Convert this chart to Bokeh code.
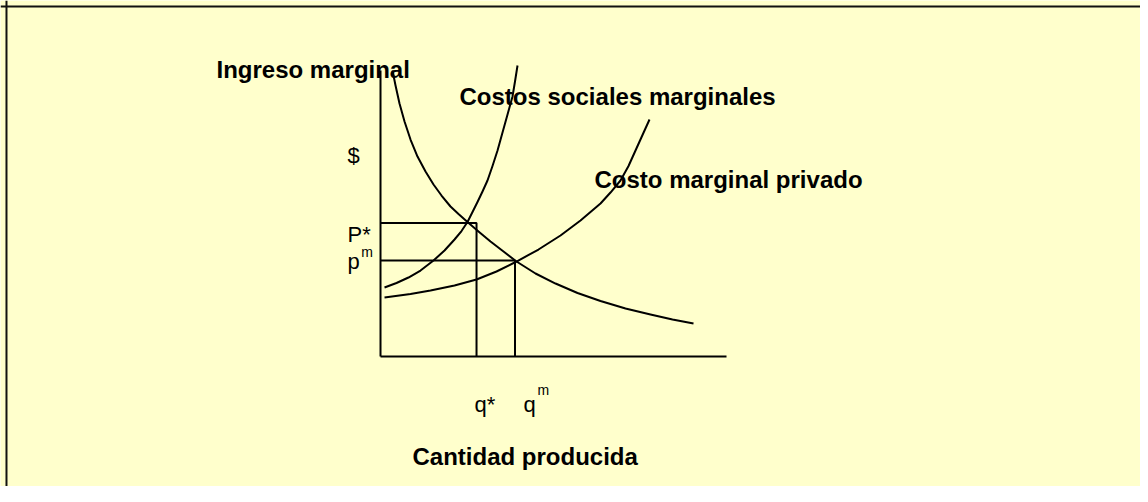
from bokeh.plotting import figure
from bokeh.models import Range1d, Span
from bokeh.core.properties import value
from bokeh.embed import file_html
from bokeh.resources import INLINE

# ---- data (quantity on x, $ on y; axes run 0..10) ----
axis_max_q = 10.0
axis_max_p = 10.0

q_star = 2.775
q_m = 3.887
p_star = 4.668
p_m = 3.357

# Ingreso marginal (marginal revenue)
mr_q = [0.347, 0.434, 0.549, 0.694, 0.867, 1.069, 1.301, 1.532, 1.763, 2.023, 2.254,
        2.514, 2.832, 3.179, 3.555, 3.931, 4.480, 5.058, 5.694, 6.358, 7.081, 7.803,
        8.439, 9.046]
mr_p = [10.000, 9.476, 8.846, 8.217, 7.587, 6.993, 6.469, 6.014, 5.629, 5.245, 4.983,
        4.703, 4.371, 4.021, 3.671, 3.322, 2.902, 2.552, 2.220, 1.941, 1.678, 1.469,
        1.294, 1.154]

# Costos sociales marginales
csm_q = [0.116, 0.462, 0.809, 1.156, 1.532, 1.850, 2.139, 2.341, 2.514, 2.659, 2.803,
         2.948, 3.092, 3.237, 3.382, 3.526, 3.671, 3.815, 3.887, 3.960]
csm_p = [2.413, 2.570, 2.762, 3.007, 3.357, 3.706, 4.091, 4.388, 4.703, 5.052, 5.402,
         5.769, 6.154, 6.661, 7.203, 7.832, 8.462, 9.091, 9.615, 10.175]

# Costo marginal privado
cmp_q = [0.116, 0.867, 1.445, 2.139, 2.775, 3.353, 3.931, 4.566, 5.202, 5.780, 6.358,
         6.647, 6.936, 7.168, 7.370, 7.572, 7.775]
cmp_p = [2.063, 2.185, 2.308, 2.483, 2.692, 2.972, 3.322, 3.741, 4.231, 4.755, 5.350,
         5.734, 6.154, 6.661, 7.203, 7.745, 8.287]

BG = "#FFFFCC"
FONT = value("Liberation Sans")

p = figure(width=1140, height=486, output_backend="svg", toolbar_location=None,
           x_range=Range1d(-10.983, 21.965), y_range=Range1d(-4.545, 12.448),
           min_border=0, background_fill_color=BG, border_fill_color=BG)
p.xaxis.visible = False
p.yaxis.visible = False
p.grid.visible = False
p.outline_line_color = None

# slide border (top and left edges visible)
p.add_layout(Span(location=12.238, dimension="width", line_color="#111111", line_width=2))
p.add_layout(Span(location=-10.810, dimension="height", line_color="#111111", line_width=2))

LW = 2.0
# axes
p.line([0, 0], [0, axis_max_p], line_color="black", line_width=LW)
p.line([0, axis_max_q], [0, 0], line_color="black", line_width=LW)

# guide lines
p.line([0, q_star, q_star], [p_star, p_star, 0], line_color="black", line_width=LW)
p.line([0, q_m, q_m], [p_m, p_m, 0], line_color="black", line_width=LW)

# curves
p.line(mr_q, mr_p, line_color="black", line_width=LW, line_join="round")
p.line(csm_q, csm_p, line_color="black", line_width=LW, line_join="round")
p.line(cmp_q, cmp_p, line_color="black", line_width=LW, line_join="round")

def label(x, y, s, size, bold=False):
    p.text(x=[x], y=[y], text=[s], text_font=FONT, text_font_size=size,
           text_font_style="bold" if bold else "normal", text_color="black",
           text_align="left", text_baseline="alphabetic")

label(-4.74, 10.035, "Ingreso marginal", "24px", True)
label(2.283, 9.09, "Costos sociales marginales", "24px", True)
label(6.185, 6.19, "Costo marginal privado", "24px", True)
label(0.925, -3.497, "Cantidad producida", "24px", True)

label(-0.954, 7.028, "$", "22px")
label(-0.954, 4.266, "P*", "22px")
label(-0.954, 3.322, "p", "22px")
label(-0.560, 3.671, "m", "14px")
label(2.717, -1.678, "q*", "22px")
label(4.133, -1.678, "q", "22px")
label(4.538, -1.154, "m", "14px")

open("out.html", "w").write(file_html(p, INLINE))
